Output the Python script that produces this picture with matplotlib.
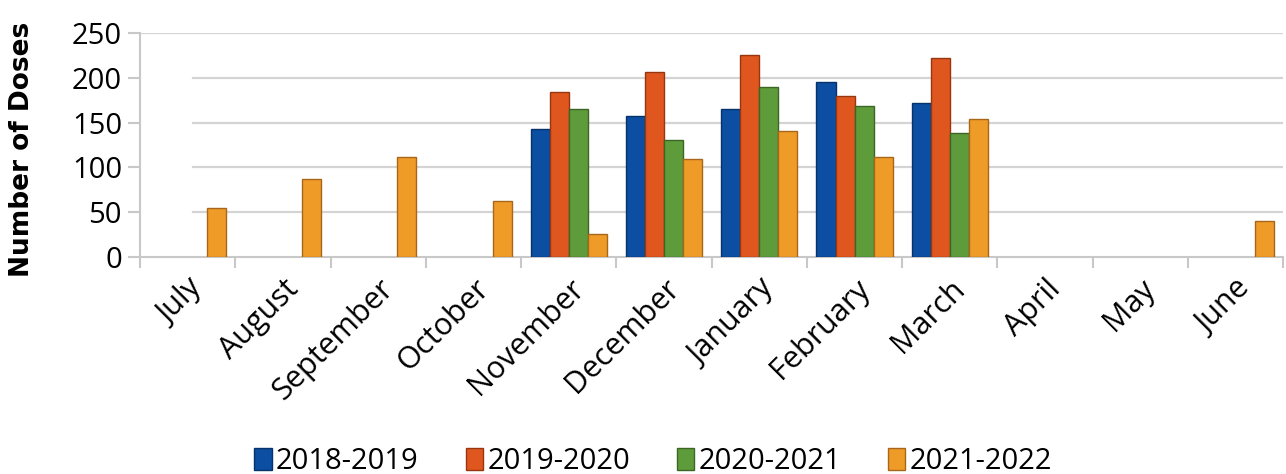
import numpy as np
import matplotlib
matplotlib.use("Agg")
import matplotlib.pyplot as plt

months = ["July", "August", "September", "October", "November", "December",
          "January", "February", "March", "April", "May", "June"]
seasons = ["2018-2019", "2019-2020", "2020-2021", "2021-2022"]
s2018 = [0, 0, 0, 0, 143, 157, 165, 195, 172, 0, 0, 0]
s2019 = [0, 0, 0, 0, 184, 207, 225, 180, 222, 0, 0, 0]
s2020 = [0, 0, 0, 0, 165, 131, 190, 169, 138, 0, 0, 0]
s2021 = [55, 87, 112, 62, 26, 109, 141, 112, 154, 0, 0, 40]
colors = ["#0B4EA2", "#E0561F", "#5E9B3B", "#EE9B27"]
edges = ["#07336B", "#97370F", "#3B6623", "#A8661A"]

plt.rcParams['font.family'] = ['Open Sans', 'DejaVu Sans']

fig = plt.figure(figsize=(12.86, 4.74), dpi=100)
ax = fig.add_axes([0.1089, 0.4578, 0.889, 0.4726])

x = np.arange(len(months))
w = 0.2
for i, vals in enumerate([s2018, s2019, s2020, s2021]):
    v = np.array(vals, dtype=float)
    m = v > 0
    ax.bar(x[m] + (i - 1.5) * w, v[m], width=w, color=colors[i],
           edgecolor=edges[i], linewidth=1.0, label=seasons[i], zorder=3)

ax.set_xlim(-0.5, 11.5)
ax.set_ylim(0, 250)
ax.set_yticks([0, 50, 100, 150, 200, 250])
for yv in [50, 100, 150, 200]:
    ax.axhline(yv, xmin=0.046, xmax=1, color="#D4D4D4", lw=1.6, zorder=1)
ax.axhline(250, color="#D4D4D4", lw=1.6, zorder=1)

ax.set_xticks(x)
ax.set_xticklabels(months, rotation=45, ha="right", rotation_mode="anchor",
                   fontsize=22)
ax.set_xticks(np.arange(-0.5, 12.0, 1.0), minor=True)
ax.tick_params(axis="x", which="major", length=0, pad=12)
ax.tick_params(axis="x", which="minor", length=8, color="#C8C8C8", width=1.5)
ax.tick_params(axis="y", length=9, color="#C8C8C8", width=1.5, labelsize=21, pad=4)

for s in ["top", "right"]:
    ax.spines[s].set_visible(False)
for s in ["left", "bottom"]:
    ax.spines[s].set_color("#C8C8C8")
    ax.spines[s].set_linewidth(1.5)

ax.set_ylabel("Number of Doses", fontsize=19, fontweight="bold",
              family=["DejaVu Sans"])
ax.yaxis.set_label_coords(-0.092, 0.48)

fig.legend(loc="lower center", bbox_to_anchor=(0.508, -0.06), ncol=4,
           frameon=False, fontsize=21, handlelength=0.6, handleheight=0.8,
           handletextpad=0.15, columnspacing=1.6)

fig.savefig("out.png", dpi=100)
